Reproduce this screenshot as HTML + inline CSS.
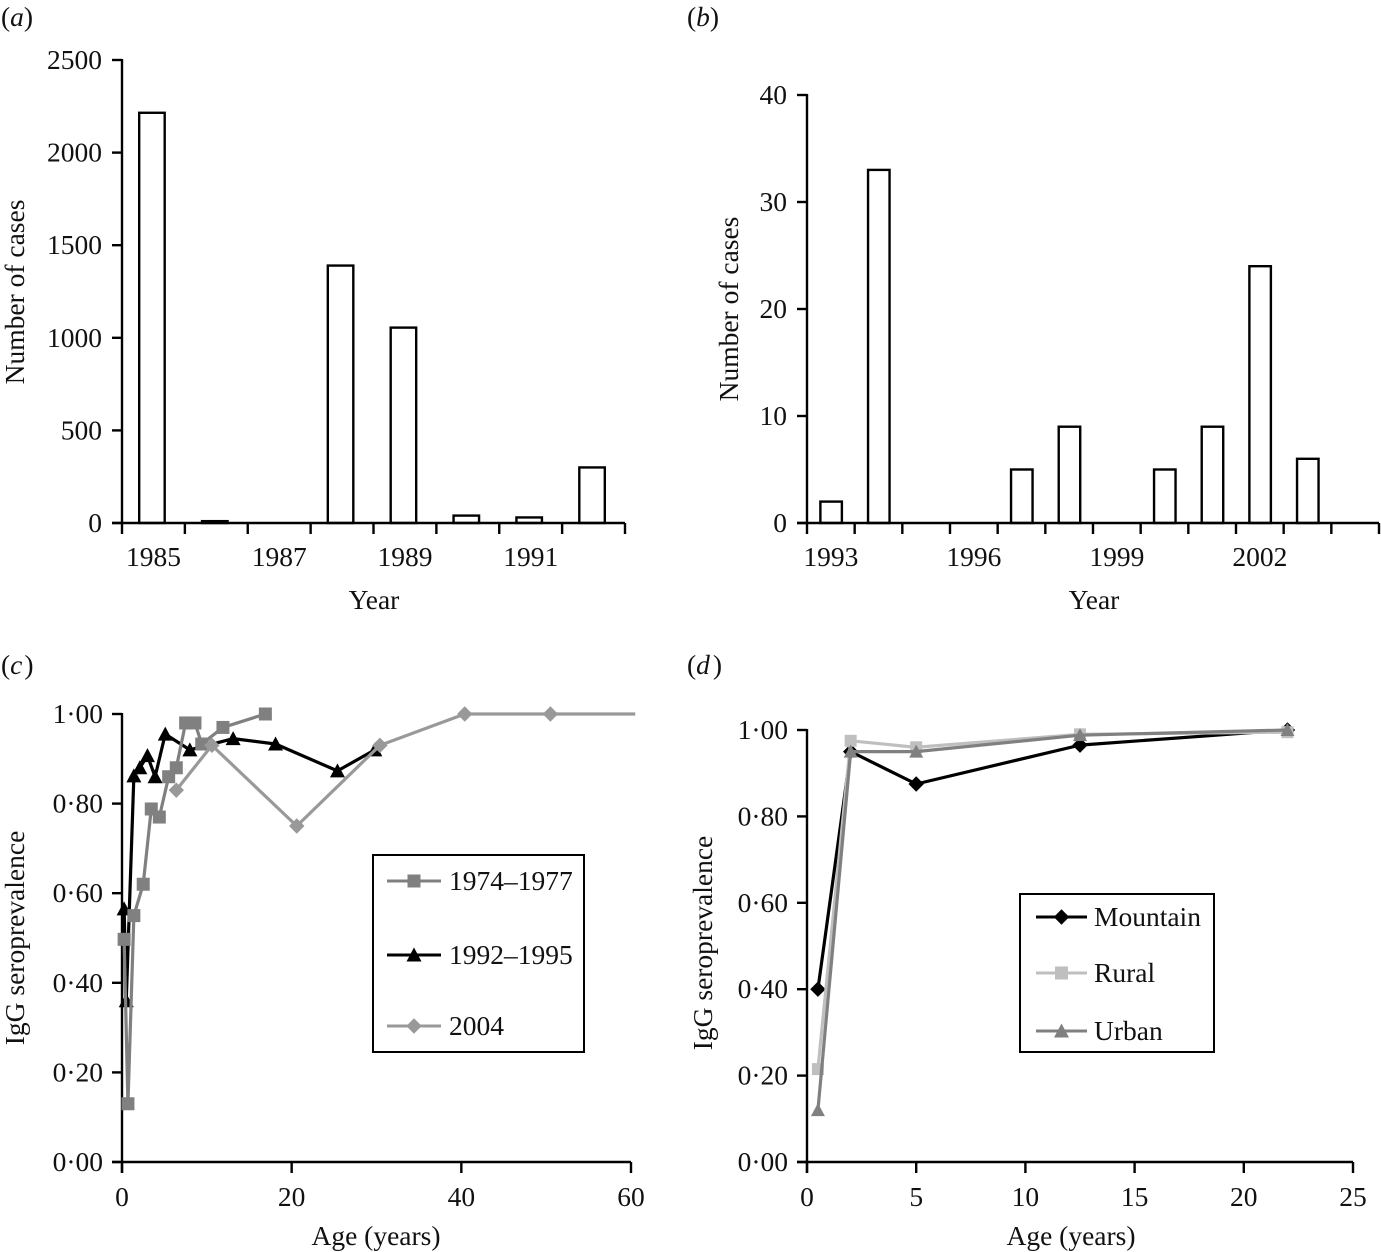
<!DOCTYPE html>
<html lang="en">
<head>
<meta charset="utf-8">
<title>Epidemiology figure</title>
<style>
html,body{margin:0;padding:0;background:#fff;}
svg{display:block;}
text{font-family:"Liberation Serif","DejaVu Serif",serif;fill:#111;font-size:27.5px;}
</style>
</head>
<body>
<svg id="fig" xmlns="http://www.w3.org/2000/svg" width="1381" height="1252" viewBox="0 0 1381 1252"></svg>
<script>
// Panel (a)
const yearsA = [1985, 1986, 1987, 1988, 1989, 1990, 1991, 1992];
const casesA = [2215, 10, 0, 1390, 1055, 40, 30, 300];
const yTicksA = [0, 500, 1000, 1500, 2000, 2500];
// Panel (b)
const yearsB = [1993, 1994, 1995, 1996, 1997, 1998, 1999, 2000, 2001, 2002, 2003, 2004];
const casesB = [2, 33, 0, 0, 5, 9, 0, 5, 9, 24, 6, 0];
const yTicksB = [0, 10, 20, 30, 40];
// Panel (c)
const age7477 = [0.25, 0.7, 1.4, 2.5, 3.45, 4.4, 5.5, 6.4, 7.5, 8.6, 9.4, 11.9, 16.9];
const sero7477 = [0.497, 0.13, 0.55, 0.62, 0.788, 0.77, 0.86, 0.88, 0.98, 0.98, 0.933, 0.97, 1.0];
const age9295 = [0.25, 0.5, 1.4, 2.1, 3, 3.9, 5.1, 8, 13.1, 18.1, 25.4, 29.8];
const sero9295 = [0.565, 0.36, 0.862, 0.88, 0.907, 0.86, 0.955, 0.92, 0.945, 0.933, 0.873, 0.92];
const age2004 = [6.4, 10.6, 20.6, 30.4, 40.4, 50.5];
const sero2004 = [0.83, 0.93, 0.75, 0.93, 1.0, 1.0];
const age2004Tail = [50.5, 60.5];
const sero2004Tail = [1.0, 1.0];
const xTicksC = [0, 20, 40, 60];
const yTicksCD = [0, 0.2, 0.4, 0.6, 0.8, 1.0];
const seriesNamesC = ['1974–1977', '1992–1995', '2004'];
// Panel (d)
const ageD = [0.5, 2, 5, 12.5, 22];
const seroMountain = [0.40, 0.95, 0.875, 0.965, 1.0];
const seroRural = [0.215, 0.975, 0.96, 0.99, 0.995];
const seroUrban = [0.12, 0.95, 0.95, 0.988, 1.0];
const xTicksD = [0, 5, 10, 15, 20, 25];
const seriesNamesD = ['Mountain', 'Rural', 'Urban'];

const svg = document.getElementById('fig');
const NS = 'http://www.w3.org/2000/svg';

function mk(tag, attrs, parent) {
  const el = document.createElementNS(NS, tag);
  for (const k in attrs) el.setAttribute(k, attrs[k]);
  (parent || svg).appendChild(el);
  return el;
}
function label(str, x, y, anchor, parent) {
  const t = mk('text', {x: x, y: y, 'text-anchor': anchor || 'middle'}, parent);
  t.textContent = str;
  return t;
}
function group(name) {
  const g = mk('g', {});
  
  
  return g;
}
function line(x1, y1, x2, y2, parent, w) {
  return mk('line', {x1: x1, y1: y1, x2: x2, y2: y2, stroke: '#000', 'stroke-width': w || 2.4}, parent);
}
function fmtDot(v) {
  return v.toFixed(2).replace('.', '·');
}
function panelLetter(letter, x, y, gap) {
  const t = mk('text', {x: x, y: y});
  
  
  const a = mk('tspan', {}, t); a.textContent = '(';
  const b = mk('tspan', {'font-style': 'italic'}, t); b.textContent = letter;
  const c = mk('tspan', {dx: gap}, t); c.textContent = ')';
}
function axisTitles(prefix, xTitle, xx, xy, yTitle, yx, yy) {
  const t1 = label(xTitle, xx, xy);
  
  
  const t2 = label(yTitle, yx, yy);
  t2.setAttribute('transform', 'rotate(-90 ' + yx + ' ' + yy + ')');
  
  
}

function barPanel(prefix, cats, vals, yTicks, box, labelEvery, barW, barShift) {
  const band = (box.x1 - box.x0) / cats.length;
  const xS = i => box.x0 + band * i;
  const yS = v => box.y0 - (v / yTicks[yTicks.length - 1]) * (box.y0 - box.yTop);
  const g = group(prefix + '-bars');
  vals.forEach((v, i) => {
    if (v <= 0) return;
    const cx = xS(i) + band / 2 + barShift;
    const r = mk('rect', {x: cx - barW / 2, y: yS(v), width: barW, height: box.y0 - yS(v), fill: '#fff', stroke: '#000', 'stroke-width': 2.4}, g);
    
    
  });
  const ax = group(prefix + '-axes');
  line(box.x0, box.yTop - 1, box.x0, box.y0 + 11, ax);
  line(box.x0 - 10, box.y0, box.x1, box.y0, ax);
  yTicks.forEach(v => {
    line(box.x0 - 10, yS(v), box.x0, yS(v), ax);
    const t = label(String(v), box.x0 - 20, yS(v) + 9, 'end', ax);
    
    
  });
  cats.forEach((c, i) => {
    line(xS(i + 1), box.y0, xS(i + 1), box.y0 + 11, ax);
    if (i % labelEvery === 0) {
      const t = label(String(c), xS(i) + band / 2, box.y0 + 43, 'middle', ax);
      
      
    }
  });
}

function marker(kind, x, y, size, color, parent) {
  const s = size / 2;
  if (kind === 'square') return mk('rect', {x: x - s, y: y - s, width: size, height: size, fill: color}, parent);
  if (kind === 'diamond') {
    const d = s + 1.2;
    return mk('polygon', {points: [x, y - d, x + d, y, x, y + d, x - d, y].join(' '), fill: color}, parent);
  }
  return mk('polygon', {points: [x, y - s - 1, x + s + 1, y + s, x - s - 1, y + s].join(' '), fill: color}, parent);
}
function series(name, xs, ys, xS, yS, kind, size, color) {
  const g = group(name);
  const pl = mk('polyline', {points: xs.map((x, i) => xS(x) + ',' + yS(ys[i])).join(' '), fill: 'none', stroke: color, 'stroke-width': 3.2, 'stroke-linejoin': 'round'}, g);
  
  
  xs.forEach((x, i) => {
    const m = marker(kind, xS(x), yS(ys[i]), size, color, g);
    
    
  });
}
function linePanelAxes(prefix, xTicks, yTicks, box) {
  const xMax = xTicks[xTicks.length - 1];
  const xS = v => box.x0 + (v / xMax) * (box.x1 - box.x0);
  const yS = v => box.y0 - v * (box.y0 - box.yTop);
  const ax = group(prefix + '-axes');
  line(box.x0, box.yTop - 1, box.x0, box.y0 + 11, ax);
  line(box.x0 - 10, box.y0, box.x1, box.y0, ax);
  yTicks.forEach(v => {
    line(box.x0 - 10, yS(v), box.x0, yS(v), ax);
    const t = label(fmtDot(v), box.x0 - 19, yS(v) + 9, 'end', ax);
    
    
  });
  xTicks.forEach(v => {
    line(xS(v), box.y0, xS(v), box.y0 + 11, ax);
    const t = label(String(v), xS(v), box.y0 + 44, 'middle', ax);
    
    
  });
  return {xS, yS};
}
function legend(prefix, rect, items) {
  const g = group(prefix + '-legend');
  const r = mk('rect', {x: rect.x, y: rect.y, width: rect.w, height: rect.h, fill: '#fff', stroke: '#000', 'stroke-width': 2}, g);
  
  
  items.forEach(it => {
    const e = mk('g', {}, g);
    
    
    mk('line', {x1: rect.lx0, y1: it.y, x2: rect.lx1, y2: it.y, stroke: it.color, 'stroke-width': 3}, e);
    marker(it.kind, (rect.lx0 + rect.lx1) / 2, it.y, 13, it.color, e);
    label(it.name, rect.tx, it.y + 9, 'start', e);
  });
}

// Panel a
panelLetter('a', 1, 26, 0);
barPanel('panel-a', yearsA, casesA, yTicksA, {x0: 122, x1: 625, y0: 523, yTop: 60}, 2, 25.5, -1.5);
axisTitles('panel-a', 'Year', 374, 609, 'Number of cases', 24, 292);

// Panel b
panelLetter('b', 687, 26, 0);
barPanel('panel-b', yearsB, casesB, yTicksB, {x0: 807, x1: 1379, y0: 523, yTop: 95}, 3, 21.5, 0.3);
axisTitles('panel-b', 'Year', 1094, 609, 'Number of cases', 738, 309);

// Panel c
panelLetter('c', 1, 674, 2);
const c = linePanelAxes('panel-c', xTicksC, yTicksCD, {x0: 122, x1: 631, y0: 1162, yTop: 714});
series('series-1992-1995', age9295, sero9295, c.xS, c.yS, 'triangle', 13, '#000');
series('series-1974-1977', age7477, sero7477, c.xS, c.yS, 'square', 13, '#808080');
series('series-2004', age2004, sero2004, c.xS, c.yS, 'diamond', 13, '#999');
const tail = mk('polyline', {points: age2004Tail.map((x, i) => c.xS(x) + ',' + c.yS(sero2004Tail[i])).join(' '), fill: 'none', stroke: '#999', 'stroke-width': 3.2});


legend('panel-c', {x: 373, y: 855, w: 211, h: 197, lx0: 387, lx1: 441, tx: 449}, [
  {name: seriesNamesC[0], y: 881, kind: 'square', color: '#808080'},
  {name: seriesNamesC[1], y: 955, kind: 'triangle', color: '#000'},
  {name: seriesNamesC[2], y: 1026, kind: 'diamond', color: '#999'}
]);
axisTitles('panel-c', 'Age (years)', 376, 1245, 'IgG seroprevalence', 24, 938);

// Panel d
panelLetter('d', 687, 674, 3);
const d = linePanelAxes('panel-d', xTicksD, yTicksCD, {x0: 807, x1: 1353, y0: 1162, yTop: 730});
series('series-mountain', ageD, seroMountain, d.xS, d.yS, 'diamond', 13, '#000');
series('series-rural', ageD, seroRural, d.xS, d.yS, 'square', 12, '#bfbfbf');
series('series-urban', ageD, seroUrban, d.xS, d.yS, 'triangle', 12, '#808080');
legend('panel-d', {x: 1020, y: 894, w: 194, h: 158, lx0: 1036, lx1: 1087, tx: 1094}, [
  {name: seriesNamesD[0], y: 917, kind: 'diamond', color: '#000'},
  {name: seriesNamesD[1], y: 973, kind: 'square', color: '#bfbfbf'},
  {name: seriesNamesD[2], y: 1031, kind: 'triangle', color: '#808080'}
]);
axisTitles('panel-d', 'Age (years)', 1071, 1245, 'IgG seroprevalence', 712, 943);
</script>
</body>
</html>
